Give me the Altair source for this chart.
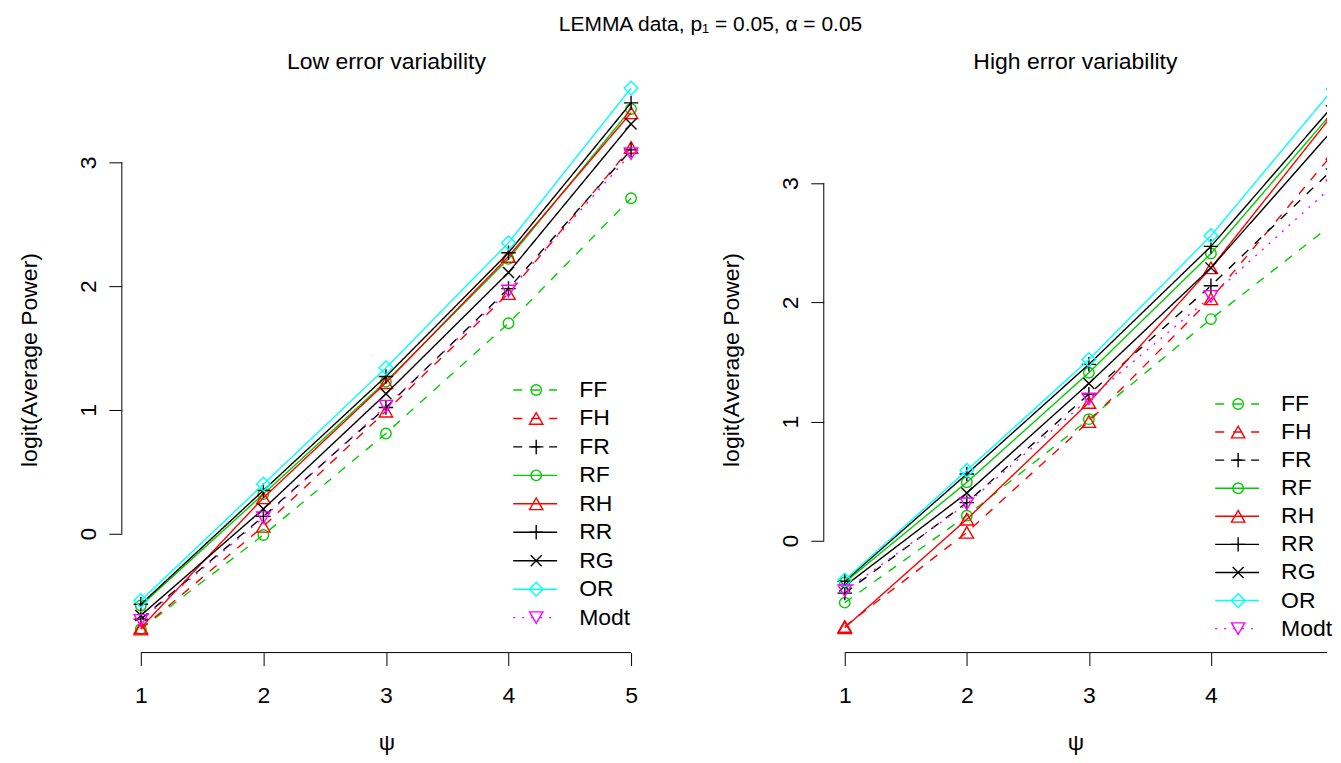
import altair as alt
import pandas as pd

# ---------------- data ----------------
PSI = [1, 2, 3, 4, 5]
SERIES = ["FF", "FH", "FR", "RF", "RH", "RR", "RG", "OR", "Modt"]

# Low error variability
low_FF = [-0.77, -0.01, 0.81, 1.70, 2.71]
low_FH = [-0.77, 0.06, 0.99, 1.94, 3.12]
low_FR = [-0.69, 0.14, 1.02, 1.98, 3.10]
low_RF = [-0.58, 0.32, 1.23, 2.22, 3.43]
low_RH = [-0.76, 0.29, 1.22, 2.24, 3.40]
low_RR = [-0.57, 0.35, 1.27, 2.27, 3.48]
low_RG = [-0.66, 0.20, 1.13, 2.11, 3.31]
low_OR = [-0.54, 0.40, 1.34, 2.35, 3.60]
low_Modt = [-0.70, 0.13, 1.03, 1.96, 3.07]

# High error variability
high_FF = [-0.52, 0.21, 1.02, 1.86, 2.66]
high_FH = [-0.72, 0.07, 1.00, 2.03, 3.25]
high_FR = [-0.44, 0.32, 1.23, 2.14, 3.12]
high_RF = [-0.35, 0.49, 1.41, 2.41, 3.60]
high_RH = [-0.73, 0.18, 1.16, 2.29, 3.58]
high_RR = [-0.34, 0.56, 1.48, 2.47, 3.65]
high_RG = [-0.38, 0.40, 1.32, 2.29, 3.45]
high_OR = [-0.33, 0.59, 1.52, 2.56, 3.79]
high_Modt = [-0.42, 0.31, 1.19, 2.05, 2.98]

Y_TICKS = [0, 1, 2, 3]
X_TICKS_LOW = [1, 2, 3, 4, 5]
X_TICKS_HIGH = [1, 2, 3, 4]

TITLE = "LEMMA data, p\u2081 = 0.05, \u03b1 = 0.05"
PANEL_TITLES = ["Low error variability", "High error variability"]
X_TITLE = "\u03c8"
Y_TITLE = "logit(Average Power)"

# ---------------- styles ----------------
FONT = "Liberation Sans"
PLUS = "M-1,0L1,0M0,-1L0,1"
XSHAPE = "M-1,-1L1,1M-1,1L1,-1"
COLORS = ["#00CD00", "#FF0000", "#000000", "#00CD00", "#FF0000",
          "#000000", "#000000", "#00FFFF", "#FF00FF"]
DASHES = [[9, 9], [9, 9], [9, 9], [1, 0], [1, 0], [1, 0], [1, 0], [1, 0], [2, 7]]
SHAPES = ["circle", "triangle-up", PLUS, "circle", "triangle-up",
          PLUS, XSHAPE, "diamond", "triangle-down"]
SIZES = [110, 180, 210, 110, 180, 210, 120, 190, 180]
LW = 1.4

H = 587


def long_df(cols):
    rows = []
    for name, vals in zip(SERIES, cols):
        for x, y in zip(PSI, vals):
            rows.append({"psi": x, "val": y, "series": name})
    return pd.DataFrame(rows)


def panel(cols, title, xdom, ydom, xticks, W, leg_top, leg_step):
    df = long_df(cols)
    xs = alt.Scale(domain=xdom, nice=False, zero=False)
    ys = alt.Scale(domain=ydom, nice=False, zero=False)
    xaxis = alt.Axis(values=xticks, title=X_TITLE, domain=False, grid=False,
                     tickSize=13, tickColor="black", tickWidth=1,
                     labelFontSize=23, labelColor="black", labelFont=FONT,
                     labelPadding=19, labelFlush=False, labelOverlap=False,
                     titleFont=FONT, titleFontSize=23, titleFontWeight="normal",
                     titleColor="black", titlePadding=24)
    yaxis = alt.Axis(values=Y_TICKS, title=Y_TITLE, domain=False, grid=False,
                     tickSize=13, tickColor="black", tickWidth=1,
                     labelFontSize=23, labelColor="black", labelFont=FONT,
                     labelAngle=270, labelAlign="center", labelBaseline="alphabetic",
                     labelPadding=13, labelFlush=False, labelOverlap=False,
                     titleFont=FONT, titleFontSize=23, titleFontWeight="normal",
                     titleColor="black", titlePadding=36)

    def X(f):
        return alt.X(f, type="quantitative", scale=xs, axis=xaxis)

    def Y(f):
        return alt.Y(f, type="quantitative", scale=ys, axis=yaxis)

    layers = []
    # axis lines spanning first..last tick (R style)
    xline = pd.DataFrame({"a": [xticks[0]], "b": [min(PSI[-1], xdom[1])]})
    layers.append(alt.Chart(xline).mark_rule(color="black", strokeWidth=1).encode(
        x=X("a"), x2="b", y=alt.value(H)))
    yline = pd.DataFrame({"a": [Y_TICKS[0]], "b": [Y_TICKS[-1]]})
    layers.append(alt.Chart(yline).mark_rule(color="black", strokeWidth=1).encode(
        y=Y("a"), y2="b", x=alt.value(0)))

    for i, s in enumerate(SERIES):
        b = alt.Chart(df).transform_filter(alt.datum.series == s)
        layers.append(b.mark_line(color=COLORS[i], strokeDash=DASHES[i],
                                  strokeWidth=LW, clip=True).encode(x=X("psi"), y=Y("val")))
        layers.append(b.mark_point(shape=SHAPES[i], size=SIZES[i], color=COLORS[i],
                                   filled=False, strokeWidth=LW, opacity=1,
                                   clip=True).encode(x=X("psi"), y=Y("val")))

    # legend (inside plot, bottom right, no box)
    leg = pd.DataFrame({"series": SERIES})
    for i, s in enumerate(SERIES):
        yy = leg_top + i * leg_step
        lb = alt.Chart(leg).transform_filter(alt.datum.series == s)
        layers.append(lb.mark_rule(color=COLORS[i], strokeDash=DASHES[i], strokeWidth=LW).encode(
            x=alt.value(392), x2=alt.value(436), y=alt.value(yy)))
        layers.append(lb.mark_point(shape=SHAPES[i], size=SIZES[i], color=COLORS[i],
                                    filled=False, strokeWidth=LW, opacity=1).encode(
            x=alt.value(415), y=alt.value(yy)))
        layers.append(lb.mark_text(align="left", baseline="middle", fontSize=23,
                                   font=FONT, color="black").encode(
            x=alt.value(458), y=alt.value(yy), text="series:N"))

    return alt.layer(*layers).properties(
        width=W, height=H,
        title=alt.TitleParams(title, fontSize=23, font=FONT, fontWeight="normal",
                              color="black", baseline="alphabetic", offset=-25.5))


left = panel([low_FF, low_FH, low_FR, low_RF, low_RH, low_RR, low_RG, low_OR, low_Modt],
             PANEL_TITLES[0], [0.845, 5.163], [-0.96, 3.774], X_TICKS_LOW, 530, 324, 28.5)
right = panel([high_FF, high_FH, high_FR, high_RF, high_RH, high_RR, high_RG, high_OR, high_Modt],
              PANEL_TITLES[1], [0.828, 4.951], [-0.939, 3.98], X_TICKS_HIGH, 504, 338, 28.125)

chart = alt.hconcat(left, right, spacing=69).properties(
    title=alt.TitleParams(TITLE, fontSize=21, font=FONT, fontWeight="normal",
                          color="black", anchor="middle", offset=16, dx=35),
    padding={"left": 11, "top": 5, "right": 0, "bottom": 0},
).configure(font=FONT, background="white").configure_view(stroke=None)

chart.save("out.html", embed_options={"renderer": "svg", "actions": False})
